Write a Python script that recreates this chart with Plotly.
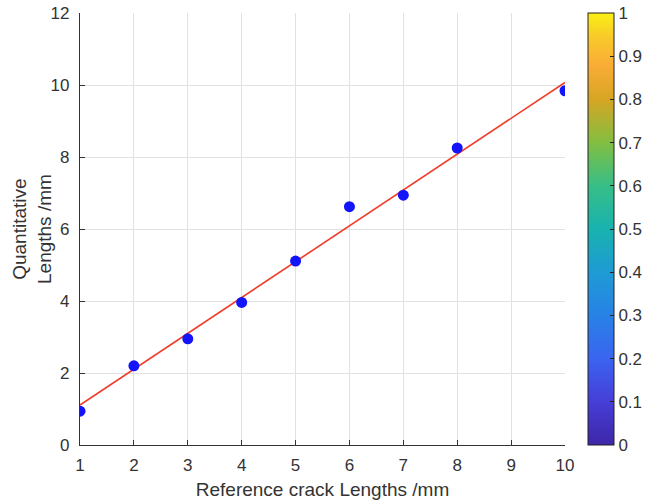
import plotly.graph_objects as go

# Data
ref_lengths = [1, 2, 3, 4, 5, 6, 7, 8, 10]
quant_lengths = [0.94, 2.20, 2.95, 3.96, 5.11, 6.62, 6.94, 8.25, 9.84]
fit_x = [1, 10]
fit_y = [1.11, 10.07]
x_ticks = [1, 2, 3, 4, 5, 6, 7, 8, 9, 10]
y_ticks = [0, 2, 4, 6, 8, 10, 12]
cbar_ticks = [0, 0.1, 0.2, 0.3, 0.4, 0.5, 0.6, 0.7, 0.8, 0.9, 1]

# Parula-like colormap as it appears in the reference
cmap_pos = [0.0, 0.1, 0.2, 0.3, 0.4, 0.5, 0.6, 0.7, 0.8, 0.88, 0.95, 1.0]
cmap_rgb = [
    (62, 38, 168),
    (70, 62, 215),
    (58, 100, 240),
    (40, 130, 230),
    (30, 155, 212),
    (25, 178, 175),
    (55, 190, 135),
    (130, 190, 65),
    (215, 165, 35),
    (250, 172, 55),
    (248, 205, 40),
    (250, 240, 20),
]
colorscale = [[p, "rgb(%d,%d,%d)" % c] for p, c in zip(cmap_pos, cmap_rgb)]

font_family = "Liberation Sans, Arial, sans-serif"
text_color = "#333"

fig = go.Figure()

fig.add_trace(go.Scatter(
    x=fit_x, y=fit_y, mode="lines",
    line=dict(color="rgb(240,60,40)", width=1.6),
    showlegend=False, hoverinfo="skip",
))

fig.add_trace(go.Scatter(
    x=ref_lengths, y=quant_lengths, mode="markers",
    marker=dict(color="rgb(20,20,250)", size=11, line=dict(width=0)),
    showlegend=False,
))

# Dummy trace to show the colorbar
fig.add_trace(go.Scatter(
    x=[None], y=[None], mode="markers",
    marker=dict(
        color=[0], cmin=0, cmax=1, colorscale=colorscale, showscale=True,
        colorbar=dict(
            x=1.047, xanchor="left", xref="paper",
            y=0.5, yanchor="middle", len=1.0, lenmode="fraction",
            thickness=26, thicknessmode="pixels",
            outlinewidth=1, outlinecolor="#222",
            tickmode="array", tickvals=cbar_ticks,
            ticktext=[("%g" % v) for v in cbar_ticks],
            ticks="inside", ticklen=4, tickcolor="#222",
            tickfont=dict(family=font_family, size=17, color=text_color),
            xpad=0, ypad=0,
        ),
    ),
    showlegend=False, hoverinfo="skip",
))

fig.update_xaxes(
    range=[1, 10], tickmode="array", tickvals=x_ticks,
    showgrid=True, gridcolor="rgb(225,225,225)", gridwidth=1,
    showline=True, linecolor="#333", linewidth=1.2, mirror=False,
    ticks="inside", ticklen=5, tickcolor="#333",
    zeroline=False, ticklabelstandoff=4,
    tickfont=dict(family=font_family, size=17, color=text_color),
    title=dict(text="Reference crack Lengths /mm",
               font=dict(family=font_family, size=19, color=text_color),
               standoff=9),
)
fig.update_yaxes(
    range=[0, 12], tickmode="array", tickvals=y_ticks,
    showgrid=True, gridcolor="rgb(225,225,225)", gridwidth=1,
    showline=True, linecolor="#333", linewidth=1.2, mirror=False,
    ticks="inside", ticklen=5, tickcolor="#333",
    zeroline=False, ticklabelstandoff=6,
    tickfont=dict(family=font_family, size=17, color=text_color),
)

fig.add_annotation(
    text="Quantitative<br>Lengths /mm",
    xref="paper", yref="paper", x=0, y=0.5,
    xanchor="center", yanchor="middle", xshift=-48,
    textangle=-90, showarrow=False,
    font=dict(family=font_family, size=19, color=text_color),
)

fig.update_layout(
    width=645, height=504,
    margin=dict(l=80, r=80, t=13, b=59, autoexpand=False),
    plot_bgcolor="white", paper_bgcolor="white",
    font=dict(family=font_family),
)

fig.write_html("out.html")
